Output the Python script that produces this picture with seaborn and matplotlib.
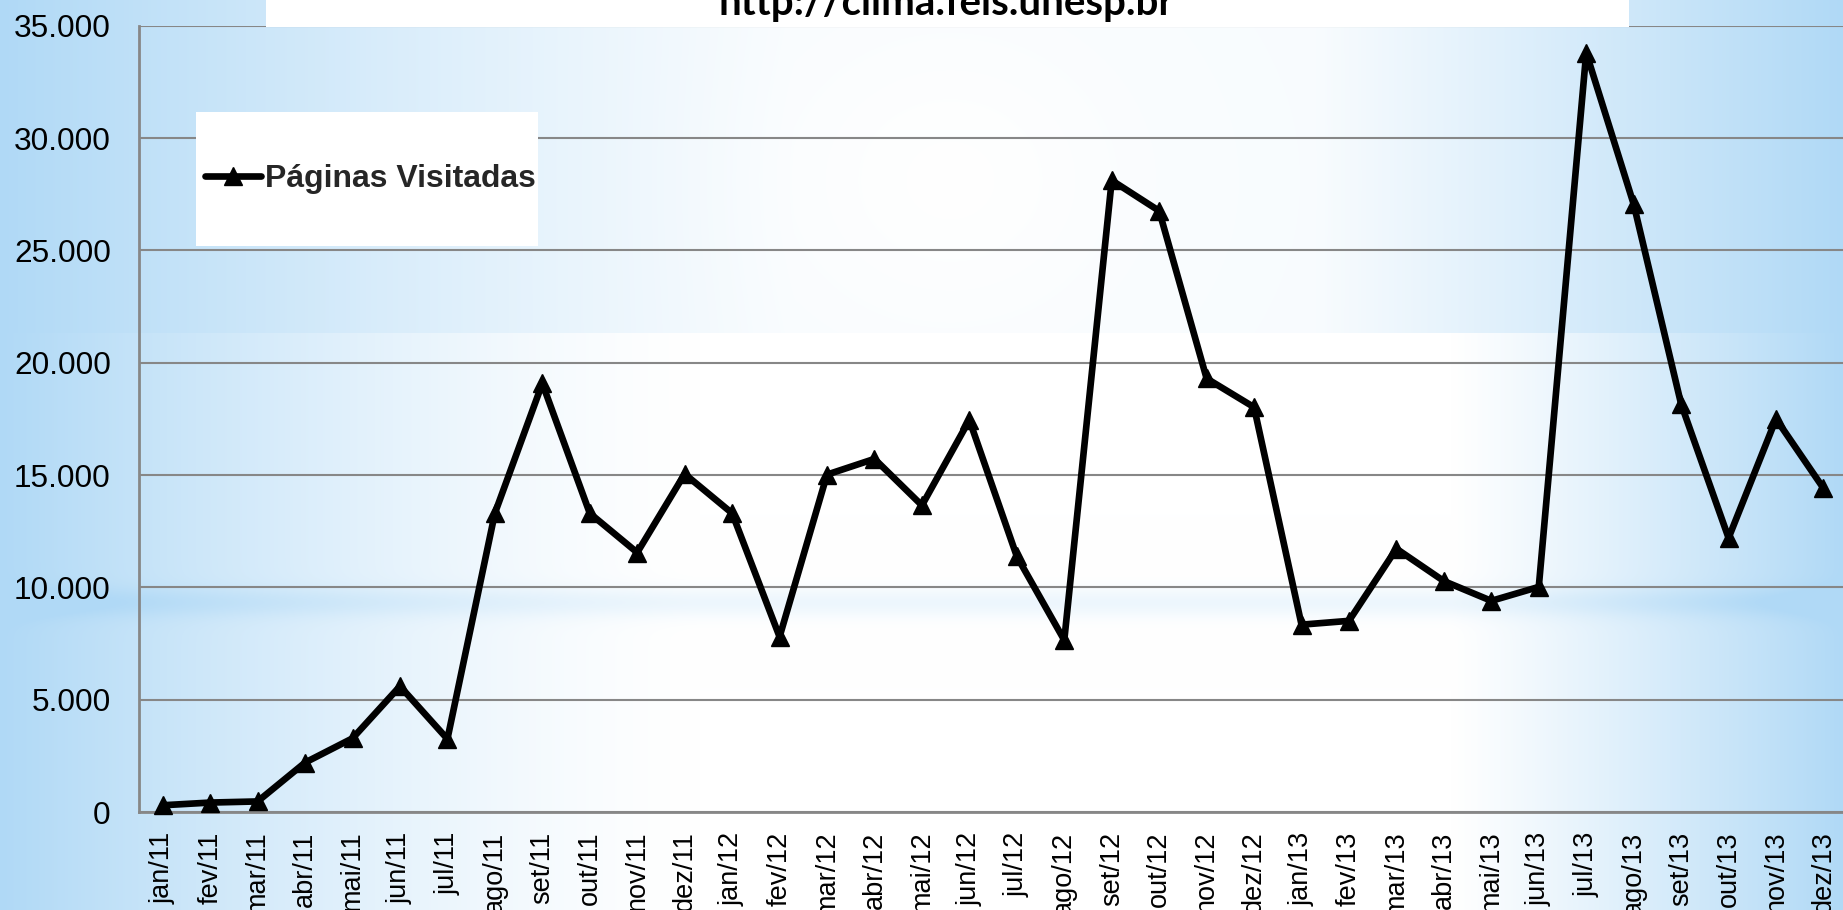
import numpy as np
import pandas as pd
import matplotlib
matplotlib.use("Agg")
import matplotlib.pyplot as plt
import seaborn as sns
from matplotlib.ticker import FuncFormatter, MultipleLocator, FixedLocator
from matplotlib.patches import Rectangle

# ---------------- data ----------------
meses = ["jan/11", "fev/11", "mar/11", "abr/11", "mai/11", "jun/11", "jul/11", "ago/11",
         "set/11", "out/11", "nov/11", "dez/11", "jan/12", "fev/12", "mar/12", "abr/12",
         "mai/12", "jun/12", "jul/12", "ago/12", "set/12", "out/12", "nov/12", "dez/12",
         "jan/13", "fev/13", "mar/13", "abr/13", "mai/13", "jun/13", "jul/13", "ago/13",
         "set/13", "out/13", "nov/13", "dez/13"]
paginas_visitadas = [300, 420, 470, 2200, 3280, 5600, 3250, 13300,
                     19080, 13300, 11550, 15050, 13300, 7800, 15020, 15720,
                     13650, 17450, 11380, 7650, 28120, 26760, 19300, 18020,
                     8340, 8510, 11720, 10280, 9400, 10020, 33800, 27060,
                     18160, 12200, 17500, 14410]
serie_nome = "Páginas Visitadas"
titulo = "http://clima.feis.unesp.br"
y_ticks = [0, 5000, 10000, 15000, 20000, 25000, 30000, 35000]

W, H = 1843, 910
sns.set_style("white")
plt.rcParams["font.family"] = ["Liberation Sans", "DejaVu Sans"]

fig = plt.figure(figsize=(W / 100, H / 100), dpi=100)

# ---------------- background gradient ----------------
bg = fig.add_axes([0, 0, 1, 1])
bg.set_zorder(-5)
yy, xx = np.mgrid[0:H, 0:W].astype(float)
top = yy < 333
lw_ = np.where(top, 950.0, 700.0)
left = np.clip(1 - xx / lw_, 0, 1) ** 1.4
rs = np.where(top, 1250.0, 1450.0)
right = np.clip((xx - rs) / (W - rs), 0, 1) ** 1.1
t = np.maximum(left, right)
t = np.where(top, np.maximum(t, 0.08), t)
glare = np.exp(-(((xx - 950) / 170) ** 2 + ((yy - 180) / 150) ** 2))
t = t * (1 - 0.9 * glare)
band = 0.22 * np.exp(-((yy - 602) / 15) ** 2)
t = np.clip(t + band, 0, 1)
blue = np.array([176, 217, 246]) / 255.0
img = 1 - t[..., None] * (1 - blue)
bg.imshow(img, extent=[0, 1, 0, 1], aspect="auto", interpolation="bilinear")
bg.axis("off")

# ---------------- main axes ----------------
x0 = 139
cat_w = 47.45
ax = fig.add_axes([x0 / W, (H - 812) / H, 36 * cat_w / W, (812 - 25.8) / H])
ax.set_facecolor("none")

df = pd.DataFrame({"pos": np.arange(len(meses)), "mes": meses, "visitas": paginas_visitadas})
sns.lineplot(data=df, x="pos", y="visitas", ax=ax, color="black", linewidth=4.8,
             marker="^", markersize=13, markeredgecolor="black", markeredgewidth=1,
             legend=False, zorder=6, clip_on=False)

ax.set_xlim(-0.5, len(meses) - 0.5)
ax.set_ylim(0, 35000)
ax.set_xlabel("")
ax.set_ylabel("")

gray = "#878787"
for s in ["top", "right"]:
    ax.spines[s].set_visible(False)
for s in ["left", "bottom"]:
    ax.spines[s].set_color(gray)
    ax.spines[s].set_linewidth(2.0)

ax.yaxis.set_major_locator(FixedLocator(y_ticks))
ax.yaxis.set_minor_locator(MultipleLocator(1000))
ax.yaxis.set_major_formatter(FuncFormatter(lambda v, p: f"{int(v):,}".replace(",", ".")))
ax.tick_params(axis="y", which="major", direction="inout", length=12.5, width=1.6,
               color=gray, pad=14, labelsize=22.8, labelcolor="black")
ax.tick_params(axis="y", which="minor", direction="in", length=5, width=1.6, color=gray)

ax.set_xticks(np.arange(len(meses)))
ax.set_xticklabels(meses, rotation=90, ha="center", va="top")
ax.xaxis.set_minor_locator(FixedLocator(np.arange(-0.5, len(meses), 1.0)))
ax.tick_params(axis="x", which="major", length=0, pad=14, labelsize=19.5, labelcolor="black")
ax.tick_params(axis="x", which="minor", direction="out", length=6, width=1.6, color=gray)

ax.yaxis.grid(True, color=gray, linewidth=1.5)
ax.xaxis.grid(False)
ax.set_axisbelow(True)

# ---------------- legend box ----------------
ax.add_patch(Rectangle((196 / W, 1 - 246 / H), (538 - 196) / W, (246 - 112) / H,
                       transform=fig.transFigure, facecolor="white", edgecolor="none",
                       zorder=4, clip_on=False))
leg = ax.legend([ax.lines[0]], [serie_nome], loc="center left",
                bbox_to_anchor=(205 / W, 1 - 179 / H), bbox_transform=fig.transFigure,
                frameon=False, borderpad=0, borderaxespad=0, handlelength=1.75,
                handletextpad=0.12, numpoints=1,
                prop={"family": ["Liberation Sans", "DejaVu Sans"], "weight": "bold", "size": 23})
leg.set_zorder(7)

# ---------------- title box ----------------
fig.patches.append(Rectangle((266 / W, 1 - 27 / H), (1629 - 266) / W, 27 / H + 0.01,
                             transform=fig.transFigure, facecolor="white", edgecolor="none",
                             zorder=1))
fig.text(946 / W, 1 - 15 / H, titulo, ha="center", va="baseline", fontsize=29,
         fontweight="bold", family=["Lato", "DejaVu Sans"], color="black", zorder=3)

fig.savefig("out.png", dpi=100)
